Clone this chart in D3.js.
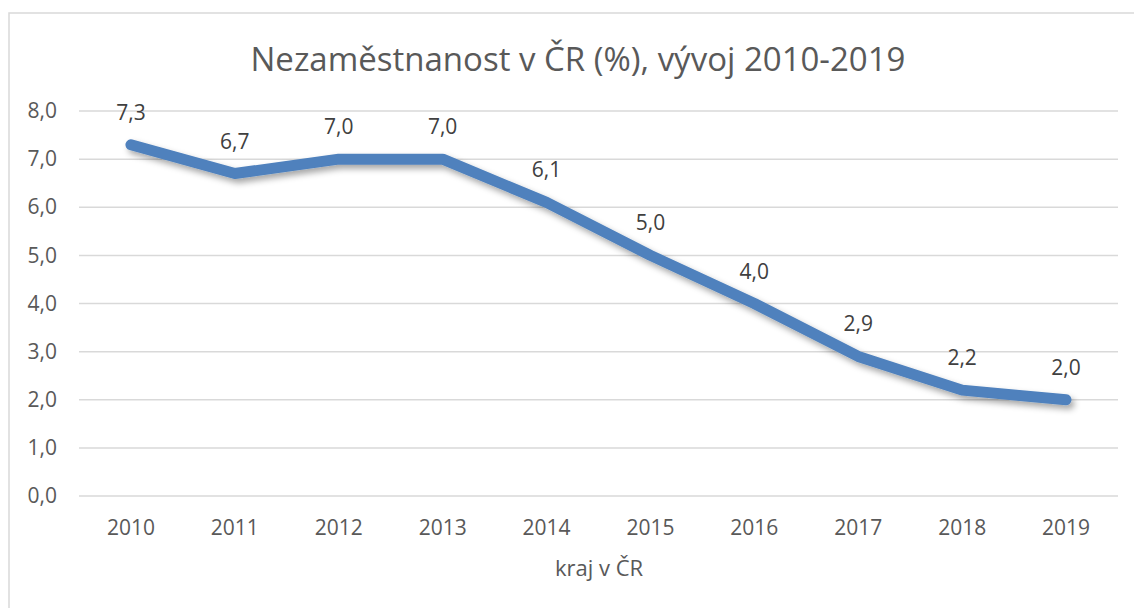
<!DOCTYPE html>
<html>
<head>
<meta charset="utf-8">
<script src="https://cdn.jsdelivr.net/npm/d3@7"></script>
<style>
  body { margin: 0; background: #fff; }
  text { font-family: "Open Sans", "Liberation Sans", sans-serif; }
</style>
</head>
<body>
<div id="chart"></div>
<script>
// data
var years = ["2010", "2011", "2012", "2013", "2014", "2015", "2016", "2017", "2018", "2019"];
var unemployment = [7.3, 6.7, 7.0, 7.0, 6.1, 5.0, 4.0, 2.9, 2.2, 2.0];
var yTicks = [0, 1, 2, 3, 4, 5, 6, 7, 8];

var W = 1134, H = 608;
var margin = {top: 111, right: 16, bottom: 112, left: 79},
  width = W - margin.left - margin.right,
  height = H - margin.top - margin.bottom;

var svg = d3.select("#chart")
  .append("svg")
  .attr("width", W)
  .attr("height", H);

// shadow under line
var defs = svg.append("defs");
var f = defs.append("filter").attr("id", "shadow")
  .attr("x", "-10%").attr("y", "-20%").attr("width", "120%").attr("height", "150%");
f.append("feDropShadow")
  .attr("dx", 3).attr("dy", 4).attr("stdDeviation", 3)
  .attr("flood-color", "#000").attr("flood-opacity", 0.35);

// chart border
svg.append("rect")
  .attr("x", 9).attr("y", 13)
  .attr("width", W + 20).attr("height", H + 20)
  .attr("fill", "none")
  .attr("stroke", "#d9d9d9")
  .attr("stroke-width", 1.5);

var g = svg.append("g")
  .attr("transform", "translate(" + margin.left + "," + margin.top + ")");

var x = d3.scaleBand()
  .domain(years)
  .range([0, width]);

var y = d3.scaleLinear()
  .domain([0, 8])
  .range([height, 0]);

var fmt = function(v) { return d3.format(".1f")(v).replace(".", ","); };

// gridlines
g.selectAll(".grid")
  .data(yTicks)
  .enter()
  .append("line")
    .attr("x1", 0)
    .attr("x2", width)
    .attr("y1", function(d) { return y(d); })
    .attr("y2", function(d) { return y(d); })
    .attr("stroke", "#d9d9d9")
    .attr("stroke-width", 1.5);

// asse Y
var yAxis = g.append("g")
  .call(d3.axisLeft(y).tickValues(yTicks).tickFormat(fmt).tickSize(0).tickPadding(22));
yAxis.select(".domain").remove();
yAxis.selectAll("text")
  .style("font-size", "21px")
  .attr("fill", "#595959");

// asse X
var xAxis = g.append("g")
  .attr("transform", "translate(0," + height + ")")
  .call(d3.axisBottom(x).tickSize(0).tickPadding(24));
xAxis.select(".domain").remove();
xAxis.selectAll("text")
  .style("font-size", "21px")
  .attr("fill", "#595959");

// titolo
svg.append("text")
  .attr("x", 578)
  .attr("y", 71)
  .attr("text-anchor", "middle")
  .style("font-size", "33px")
  .attr("fill", "#595959")
  .text("Nezaměstnanost v ČR (%), vývoj 2010-2019");

// label asse X
svg.append("text")
  .attr("x", 599)
  .attr("y", 576)
  .attr("text-anchor", "middle")
  .style("font-size", "22px")
  .attr("fill", "#595959")
  .text("kraj v ČR");

// linea
var line = d3.line()
  .x(function(d, i) { return x(years[i]) + x.bandwidth() / 2; })
  .y(function(d) { return y(d); });

g.append("path")
  .datum(unemployment)
  .attr("d", line)
  .attr("fill", "none")
  .attr("stroke", "#4f81bd")
  .attr("stroke-width", 11)
  .attr("stroke-linecap", "round")
  .attr("stroke-linejoin", "round")
  .attr("filter", "url(#shadow)");

// etichette dati
g.selectAll(".lbl")
  .data(unemployment)
  .enter()
  .append("text")
    .attr("x", function(d, i) { return x(years[i]) + x.bandwidth() / 2; })
    .attr("y", function(d) { return y(d) - 25; })
    .attr("text-anchor", "middle")
    .style("font-size", "21px")
    .attr("fill", "#404040")
    .text(fmt);
</script>
</body>
</html>
